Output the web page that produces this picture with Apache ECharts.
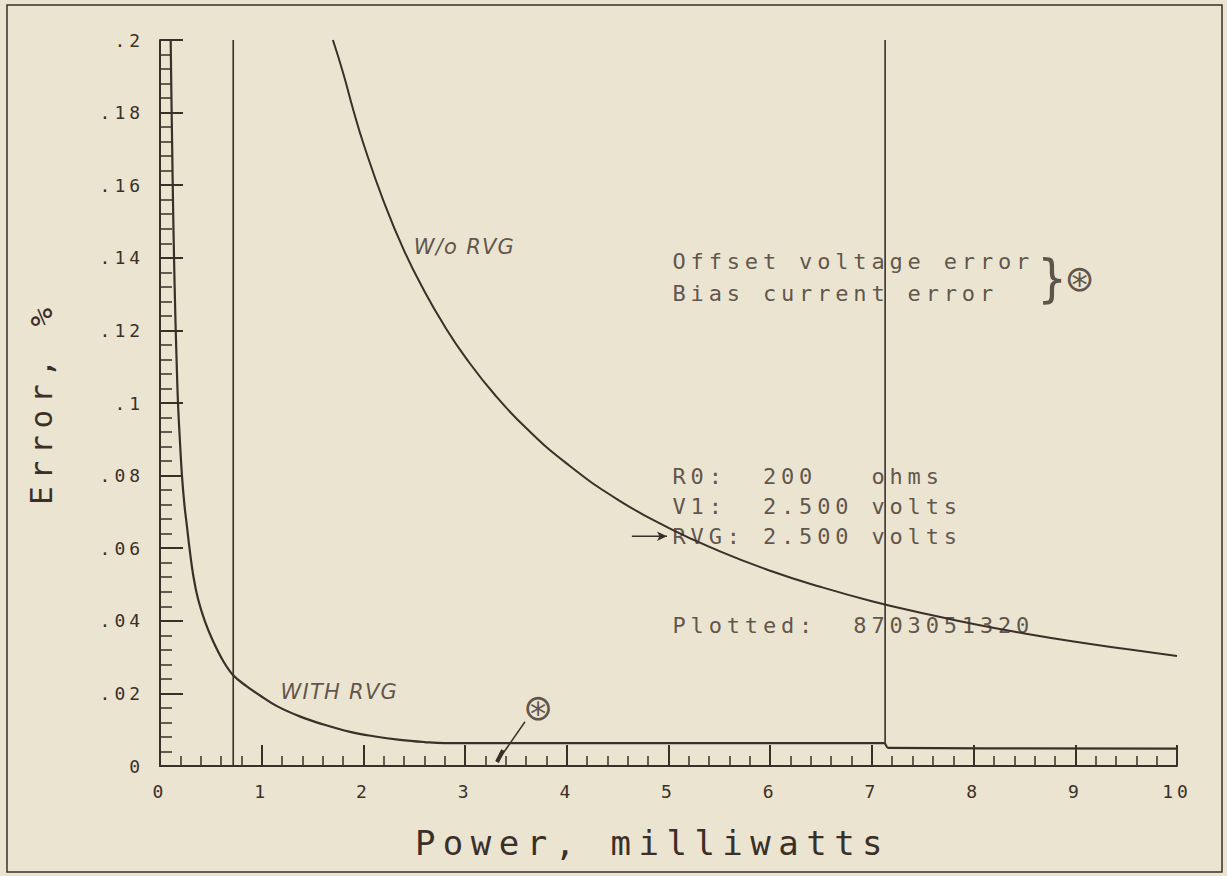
<!DOCTYPE html>
<html><head><meta charset="utf-8">
<script src="https://cdn.jsdelivr.net/npm/echarts@6/dist/echarts.min.js"></script>
<style>
html,body{margin:0;padding:0;background:#ebe4d0;}
#c{width:1227px;height:876px;}
#c text{letter-spacing:0.22em;}
#c text[style*="italic"]{letter-spacing:0.06em;}
#c text[style*="Condensed"]{letter-spacing:0;}
</style></head><body><div id="c"></div>
<script>
// ---- data ----
const xTickLabels = ['0','1','2','3','4','5','6','7','8','9','10'];
const yTickLabels = ['0','.02','.04','.06','.08','.1','.12','.14','.16','.18','.2'];

// Error (%) without RVG vs power (mW)
const withoutRvg = [
  [1.70,0.2000],[1.80,0.1910],[1.90,0.1808],[2.00,0.1715],[2.20,0.1555],[2.40,0.1420],
  [2.60,0.1308],[2.80,0.1211],[3.00,0.1127],[3.30,0.1020],[3.60,0.0931],[4.00,0.0833],
  [4.50,0.0734],[5.00,0.0656],[5.50,0.0592],[6.00,0.0538],[6.50,0.0493],[7.00,0.0454],
  [7.50,0.0421],[8.00,0.0391],[8.50,0.0365],[9.00,0.0342],[9.50,0.0322],[10.0,0.0303]
];
// Error (%) with RVG vs power (mW)
const withRvg = [
  [0.105,0.200],[0.112,0.185],[0.120,0.170],[0.128,0.155],[0.138,0.140],[0.150,0.125],
  [0.163,0.112],[0.177,0.100],[0.195,0.090],[0.216,0.080],[0.240,0.072],[0.265,0.066],
  [0.290,0.060],[0.330,0.052],[0.374,0.046],[0.440,0.040],[0.520,0.0345],[0.620,0.0290],
  [0.720,0.0250],[0.850,0.0220],[0.980,0.0195],[1.15,0.0165],[1.38,0.0136],[1.60,0.0115],
  [1.87,0.0094],[2.10,0.0082],[2.36,0.0072],[2.60,0.0066],[2.80,0.0063],[7.12,0.0063],
  [7.16,0.0050],[10.0,0.0048]
];
// vertical limit lines
const limitLineLow = [[0.72,0],[0.72,0.2]];
const limitLineHigh = [[7.13,0.0063],[7.13,0.2]];
// pointer from circled star to flat region
const starPointer = [[3.589,0.0122],[3.314,0.0011]];
const starPointerTip = [[3.373,0.0044],[3.314,0.0011]];
const rvgArrow = [[4.64,0.0633],[4.985,0.0633]];

// annotations: [x, y, text]
const monoNotes = [
  [5.034,0.1391,'Offset voltage error'],
  [5.034,0.1303,'Bias current error'],
  [5.034,0.0797,'R0:  200   ohms'],
  [5.034,0.0716,'V1:  2.500 volts'],
  [5.034,0.0633,'RVG: 2.500 volts'],
  [5.034,0.0387,'Plotted:  8703051320']
];
const handNotes = [
  [2.49,0.143,'W/o RVG'],
  [1.18,0.0205,'WITH RVG']
];
const braceNote = [[8.62,0.1344,'}']];
const starNotes = [[9.08,0.1344,'⊛'],[3.756,0.0160,'⊛']];

// ---- chart ----
const ink = '#3a2f29';
const mono = 'DejaVu Sans Mono';
const chart = echarts.init(document.getElementById('c'), null, {renderer:'svg'});

function noteSeries(data, label){
  return {
    type:'scatter', data:data.map(d=>({value:[d[0],d[1]], name:d[2]})),
    symbol:'circle', symbolSize:1, itemStyle:{color:'rgba(0,0,0,0)'},
    silent:true, z:5,
    label:Object.assign({show:true, formatter:p=>p.name, color:ink}, label)
  };
}
function lineSeries(data, width, extra){
  return Object.assign({type:'line', data:data, symbol:'none', silent:true,
    lineStyle:{color:ink, width:width}, z:3}, extra||{});
}

chart.setOption({
  backgroundColor:'#ebe4d0',
  animation:false,
  graphic:[{type:'rect', shape:{x:7,y:5,width:1215,height:867},
    style:{fill:'none', stroke:ink, lineWidth:1.5}, silent:true}],
  grid:{left:160,right:50,top:40,bottom:110, containLabel:false, outerBoundsMode:'none'},
  xAxis:{
    type:'value', min:0, max:10, interval:1,
    axisLine:{lineStyle:{color:ink,width:2}},
    axisTick:{inside:true,length:21,lineStyle:{color:ink,width:2}},
    minorTick:{show:true,splitNumber:5,length:10,lineStyle:{color:ink,width:1.5}},
    splitLine:{show:false},
    axisLabel:{color:ink,fontFamily:mono,fontSize:18,margin:16,
      formatter:v=>xTickLabels[Math.round(v)]},
    name:'Power, milliwatts', nameLocation:'middle', nameGap:60,
    nameTextStyle:{color:ink,fontFamily:mono,fontSize:34,padding:[0,32,0,0]}
  },
  yAxis:{
    type:'value', min:0, max:0.2, interval:0.02,
    axisLine:{lineStyle:{color:ink,width:2}},
    axisTick:{inside:true,length:23,lineStyle:{color:ink,width:2}},
    minorTick:{show:true,splitNumber:5,length:12,lineStyle:{color:ink,width:1.5}},
    splitLine:{show:false},
    axisLabel:{color:ink,fontFamily:mono,fontSize:18,margin:16,
      formatter:v=>yTickLabels[Math.round(v/0.02)]},
    name:'Error, %', nameLocation:'middle', nameGap:104,
    nameTextStyle:{color:ink,fontFamily:mono,fontSize:31}
  },
  series:[
    lineSeries(withoutRvg, 2, {smooth:0.5}),
    lineSeries(withRvg, 2.2, {smooth:0.4}),
    lineSeries(limitLineLow, 1.6),
    lineSeries(limitLineHigh, 1.6),
    lineSeries(starPointer, 1.5),
    lineSeries(starPointerTip, 4),
    lineSeries(rvgArrow, 1.5, {
      data: rvgArrow.map((d,i)=>({value:d, symbol: i===1?'arrow':'none', symbolSize:[7,10], symbolRotate:-90})),
      showSymbol:true, itemStyle:{color:ink}
    }),
    noteSeries(monoNotes, {position:'right', distance:0, fontFamily:mono, fontSize:22}),
    noteSeries(handNotes, {position:'right', distance:0, fontFamily:'DejaVu Sans', fontStyle:'italic', fontSize:21}),
    noteSeries(braceNote, {position:'right', distance:0, fontFamily:'DejaVu Sans Condensed', fontSize:52}),
    noteSeries(starNotes, {position:'inside', fontFamily:'DejaVu Sans', fontSize:36})
  ]
});
</script></body></html>
